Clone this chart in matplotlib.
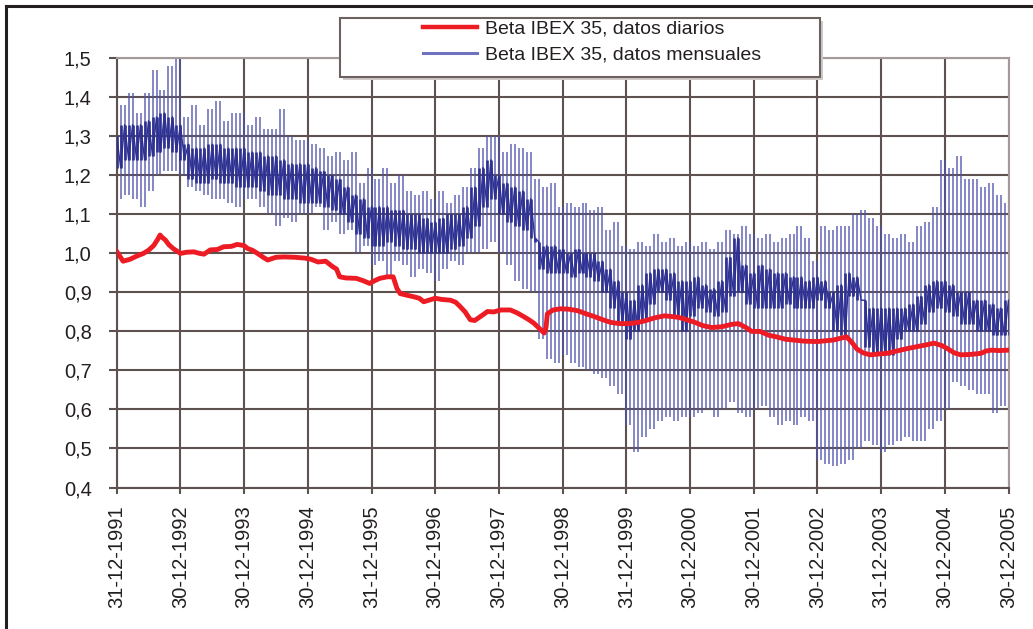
import numpy as np
import matplotlib
matplotlib.use('Agg')
import matplotlib.pyplot as plt
from matplotlib.lines import Line2D
from matplotlib.patches import Rectangle

plt.rcParams['font.family'] = ['Liberation Sans', 'DejaVu Sans']

# etiquetas del eje x (un año entre cada una)
fechas = ['31-12-1991', '30-12-1992', '30-12-1993', '30-12-1994', '31-12-1995',
          '30-12-1996', '30-12-1997', '30-12-1998', '31-12-1999', '30-12-2000',
          '30-12-2001', '30-12-2002', '31-12-2003', '30-12-2004', '30-12-2005']
y_ticks = [0.4, 0.5, 0.6, 0.7, 0.8, 0.9, 1.0, 1.1, 1.2, 1.3, 1.4, 1.5]
y_labels = ['0,4', '0,5', '0,6', '0,7', '0,8', '0,9', '1,0', '1,1', '1,2', '1,3', '1,4', '1,5']

# beta con datos diarios (años desde 31-12-1991, valor)
rojo_t = [0, 0.1, 0.21, 0.3, 0.42, 0.5, 0.58, 0.64, 0.68, 0.72, 0.76, 0.82, 0.89,
          1.0, 1.1, 1.21, 1.3, 1.37, 1.47, 1.58, 1.68, 1.8, 1.89,
          2.0, 2.05, 2.13, 2.21, 2.3, 2.37, 2.5, 2.63, 2.8, 2.95,
          3.05, 3.16, 3.28, 3.39, 3.45, 3.5, 3.6, 3.76, 3.87, 3.97,
          4.05, 4.13, 4.25, 4.34, 4.4, 4.45, 4.55, 4.66, 4.75, 4.82, 4.9,
          5.0, 5.1, 5.24, 5.32, 5.39, 5.47, 5.55, 5.62, 5.71, 5.77, 5.82, 5.92,
          6.03, 6.18, 6.28, 6.39, 6.47, 6.55, 6.62, 6.71, 6.74, 6.76, 6.85, 6.97,
          7.1, 7.24, 7.37, 7.5, 7.63, 7.76, 7.9,
          8.03, 8.15, 8.29, 8.45, 8.6, 8.72, 8.82, 8.95,
          9.08, 9.2, 9.34, 9.5, 9.65, 9.76, 9.88, 9.97,
          10.1, 10.24, 10.36, 10.5, 10.62, 10.8,
          11.0, 11.12, 11.25, 11.35, 11.46, 11.55, 11.62, 11.72, 11.83, 11.95,
          12.1, 12.25, 12.41, 12.6, 12.72, 12.83, 12.95,
          13.04, 13.15, 13.25, 13.4, 13.57, 13.65, 13.73, 13.85, 14.0]
rojo_v = [1.005, 0.98, 0.985, 0.992, 1.0, 1.008, 1.02, 1.035, 1.047, 1.04, 1.035, 1.022, 1.012,
          1.0, 1.003, 1.004, 1.0, 0.998, 1.009, 1.01, 1.017, 1.018, 1.023,
          1.02, 1.013, 1.008, 1.0, 0.99, 0.983, 0.99, 0.991, 0.99, 0.988,
          0.985, 0.978, 0.98, 0.966, 0.96, 0.94, 0.937, 0.936, 0.93, 0.923,
          0.93, 0.936, 0.94, 0.94, 0.91, 0.897, 0.893, 0.889, 0.885, 0.876, 0.88,
          0.885, 0.882, 0.88, 0.875, 0.864, 0.85, 0.83, 0.828, 0.838, 0.845, 0.851, 0.85,
          0.855, 0.855, 0.848, 0.838, 0.83, 0.821, 0.81, 0.796, 0.81, 0.845, 0.855, 0.858,
          0.857, 0.853, 0.845, 0.838, 0.83, 0.823, 0.82,
          0.82, 0.822, 0.827, 0.835, 0.84, 0.838, 0.836, 0.83,
          0.823, 0.815, 0.81, 0.812, 0.818, 0.82, 0.81, 0.80,
          0.80, 0.79, 0.786, 0.78, 0.778, 0.775,
          0.774, 0.776, 0.778, 0.782, 0.786, 0.77, 0.755, 0.745, 0.74, 0.742,
          0.744, 0.75, 0.756, 0.762, 0.766, 0.77, 0.764,
          0.756, 0.745, 0.74, 0.741, 0.744, 0.75, 0.752, 0.751, 0.752]

# beta con datos mensuales: picos altos y bajos (cada 1/8 de año), una fila por año
azul_max = [1.44, 1.38, 1.41, 1.36, 1.41, 1.47, 1.42, 1.48,
            1.50, 1.35, 1.38, 1.33, 1.37, 1.39, 1.34, 1.36,
            1.36, 1.33, 1.35, 1.32, 1.32, 1.37, 1.30, 1.29,
            1.29, 1.28, 1.27, 1.25, 1.26, 1.24, 1.26, 1.18,
            1.22, 1.19, 1.22, 1.18, 1.20, 1.16, 1.15, 1.16,
            1.14, 1.16, 1.13, 1.15, 1.17, 1.22, 1.27, 1.30,
            1.30, 1.26, 1.28, 1.27, 1.26, 1.19, 1.17, 1.18,
            1.12, 1.13, 1.12, 1.13, 1.11, 1.12, 1.06, 1.08,
            1.02, 1.01, 1.03, 1.02, 1.05, 1.03, 1.04, 1.02,
            1.03, 1.02, 1.03, 1.01, 1.03, 1.06, 1.05, 1.07,
            1.05, 1.04, 1.05, 1.03, 1.04, 1.05, 1.07, 1.04,
            0.98, 1.07, 1.06, 1.07, 1.07, 1.10, 1.11, 1.09,
            1.07, 1.05, 1.04, 1.05, 1.03, 1.07, 1.08, 1.12,
            1.24, 1.22, 1.25, 1.19, 1.19, 1.17, 1.18, 1.15,
            1.13]
azul_min = [1.14, 1.15, 1.14, 1.12, 1.16, 1.20, 1.21, 1.21,
            1.20, 1.17, 1.16, 1.15, 1.14, 1.14, 1.13, 1.12,
            1.14, 1.14, 1.12, 1.10, 1.07, 1.09, 1.08, 1.10,
            1.10, 1.12, 1.06, 1.08, 1.05, 1.06, 1.00, 1.02,
            0.97, 0.98, 0.94, 0.98, 0.97, 0.94, 0.96, 0.95,
            0.93, 0.96, 0.98, 0.97, 1.00, 1.00, 1.01, 1.03,
            1.00, 0.97, 0.93, 0.91, 0.90, 0.78, 0.73, 0.72,
            0.74, 0.72, 0.71, 0.70, 0.69, 0.68, 0.66, 0.64,
            0.56, 0.49, 0.53, 0.55, 0.57, 0.58, 0.57, 0.58,
            0.58, 0.59, 0.60, 0.58, 0.60, 0.62, 0.59, 0.58,
            0.60, 0.61, 0.58, 0.56, 0.57, 0.56, 0.58, 0.57,
            0.47, 0.46, 0.455, 0.46, 0.47, 0.50, 0.52, 0.51,
            0.49, 0.51, 0.52, 0.53, 0.52, 0.52, 0.55, 0.57,
            0.60, 0.67, 0.66, 0.65, 0.64, 0.64, 0.59, 0.61]
# banda central (zona densa) de la serie mensual
nucleo_alto = [1.30, 1.33, 1.33, 1.33, 1.34, 1.35, 1.36, 1.35,
               1.33, 1.28, 1.27, 1.27, 1.28, 1.28, 1.27, 1.27,
               1.27, 1.26, 1.26, 1.25, 1.25, 1.24, 1.23, 1.23,
               1.23, 1.22, 1.21, 1.20, 1.19, 1.17, 1.15, 1.14,
               1.12, 1.12, 1.12, 1.11, 1.11, 1.10, 1.10, 1.09,
               1.08, 1.09, 1.10, 1.10, 1.12, 1.17, 1.22, 1.24,
               1.20, 1.18, 1.17, 1.16, 1.14, 1.03, 1.02, 1.02,
               1.01, 1.00, 1.01, 1.00, 1.00, 0.98, 0.96, 0.93,
               0.90, 0.88, 0.92, 0.95, 0.96, 0.96, 0.95, 0.93,
               0.93, 0.94, 0.92, 0.91, 0.93, 0.99, 1.04, 0.97,
               0.95, 0.97, 0.96, 0.95, 0.95, 0.94, 0.94, 0.93,
               0.94, 0.93, 0.90, 0.92, 0.95, 0.94, 0.88, 0.86,
               0.86, 0.86, 0.86, 0.86, 0.87, 0.89, 0.92, 0.93,
               0.93, 0.92, 0.90, 0.90, 0.88, 0.88, 0.87, 0.86,
               0.88]
nucleo_bajo = [1.22, 1.24, 1.24, 1.24, 1.25, 1.26, 1.27, 1.26,
               1.24, 1.19, 1.18, 1.18, 1.19, 1.18, 1.18, 1.17,
               1.17, 1.17, 1.16, 1.15, 1.15, 1.14, 1.14, 1.13,
               1.13, 1.13, 1.12, 1.11, 1.10, 1.08, 1.05, 1.04,
               1.02, 1.02, 1.03, 1.02, 1.01, 1.01, 1.00, 1.00,
               1.00, 1.00, 1.01, 1.02, 1.04, 1.07, 1.12, 1.14,
               1.10, 1.08, 1.07, 1.06, 1.04, 0.96, 0.95, 0.95,
               0.95, 0.94, 0.95, 0.94, 0.93, 0.90, 0.86, 0.82,
               0.78, 0.80, 0.83, 0.87, 0.90, 0.88, 0.84, 0.80,
               0.84, 0.86, 0.85, 0.84, 0.85, 0.89, 0.90, 0.87,
               0.86, 0.86, 0.86, 0.86, 0.87, 0.86, 0.86, 0.86,
               0.88, 0.86, 0.80, 0.79, 0.89, 0.88, 0.76, 0.74,
               0.74, 0.74, 0.78, 0.80, 0.80, 0.82, 0.85, 0.86,
               0.85, 0.84, 0.82, 0.82, 0.80, 0.80, 0.79, 0.79]

W, H = 1033, 629
gris = '#5e5250'
texto = '#231f20'

# posiciones (años): picos altos cada 1/8 de año, bajos a mitad de camino
t_alto = np.arange(len(azul_max)) / 8.0
t_bajo = np.arange(len(azul_min)) / 8.0 + 1 / 16.0
a_max = np.array(azul_max)
a_min = np.array(azul_min)
n_a = np.array(nucleo_alto)
n_b = np.array(nucleo_bajo)

# cada trazo vertical usa el pico alto y el bajo vecinos
x_todo = np.empty(len(t_alto) + len(t_bajo))
x_todo[0::2], x_todo[1::2] = t_alto, t_bajo
sup = np.empty_like(x_todo)
sup[0::2], sup[1::2] = a_max, a_max[1:]
inf = np.empty_like(x_todo)
inf[0::2], inf[1::2] = np.append(a_min, a_min[-1]), a_min
n_sup = np.empty_like(x_todo)
n_sup[0::2], n_sup[1::2] = n_a, n_a[1:]
n_inf = np.empty_like(x_todo)
n_inf[0::2], n_inf[1::2] = np.append(n_b, n_b[-1]), n_b
zig = np.where(np.arange(len(x_todo)) % 2 == 0, n_sup, n_inf)

fig = plt.figure(figsize=(W / 100, H / 100), dpi=100)
ax = fig.add_axes([116.7 / W, 1 - 487.5 / H, (1008.5 - 116.7) / W, (487.5 - 58.3) / H])

ax.vlines(x_todo, inf, sup, color='#4f53ab', lw=1.3, alpha=0.75, zorder=2)
ax.vlines(x_todo, n_inf, n_sup, color='#2e3192', lw=1.9, zorder=3)
ax.plot(x_todo, zig, color='#2e3192', lw=1.0, zorder=3)
ax.plot(rojo_t, rojo_v, color='#ed1c24', lw=3.5, zorder=4, solid_joinstyle='round')

ax.set_xlim(0, 14)
ax.set_ylim(0.4, 1.5)
ax.set_xticks(range(len(fechas)))
ax.set_xticklabels(fechas, rotation=90)
ax.set_yticks(y_ticks)
ax.set_yticklabels(y_labels)
ax.grid(color=gris, lw=1.5)
ax.set_axisbelow(True)
ax.tick_params(axis='y', length=6, width=1.5, color=gris, pad=12, labelsize=14.5, labelcolor=texto)
ax.tick_params(axis='x', length=4, width=1.5, color=gris, pad=9, labelsize=14.5, labelcolor=texto)
for lado in ['left', 'bottom']:
    ax.spines[lado].set_color(gris)
    ax.spines[lado].set_linewidth(1.5)
for lado in ['top', 'right']:
    ax.spines[lado].set_color('#a59a9a')
    ax.spines[lado].set_linewidth(1.5)

# leyenda con marco propio
fig.add_artist(Rectangle((342.5 / W, 1 - 79.5 / H), 480 / W, 59 / H, transform=fig.transFigure,
                         facecolor='#cfc8c8', edgecolor='none', zorder=4))
fig.add_artist(Rectangle((340 / W, 1 - 77 / H), 480 / W, 59 / H, transform=fig.transFigure,
                         facecolor='white', edgecolor='#6d6160', lw=1.5, zorder=5))
manejadores = [Line2D([], [], color='#ed1c24', lw=3.2),
               Line2D([], [], color='#7071bf', lw=2.2)]
leg = fig.legend(manejadores, ['Beta IBEX 35, datos diarios', 'Beta IBEX 35, datos mensuales'],
                 loc='upper left', bbox_to_anchor=(423 / W, 1 - 20 / H), frameon=False,
                 borderpad=0, borderaxespad=0, handlelength=2.8, handletextpad=0.4,
                 labelspacing=0.45, fontsize=14)
leg.set_zorder(6)
for t in leg.get_texts():
    t.set_color(texto)

# borde exterior (arriba e izquierda)
fig.add_artist(Line2D([6 / W, 1], [1 - 5.5 / H, 1 - 5.5 / H], color=texto, lw=2.2))
fig.add_artist(Line2D([6 / W, 6 / W], [0, 1 - 5.5 / H], color=texto, lw=2.2))

fig.savefig('out.png', dpi=100)
